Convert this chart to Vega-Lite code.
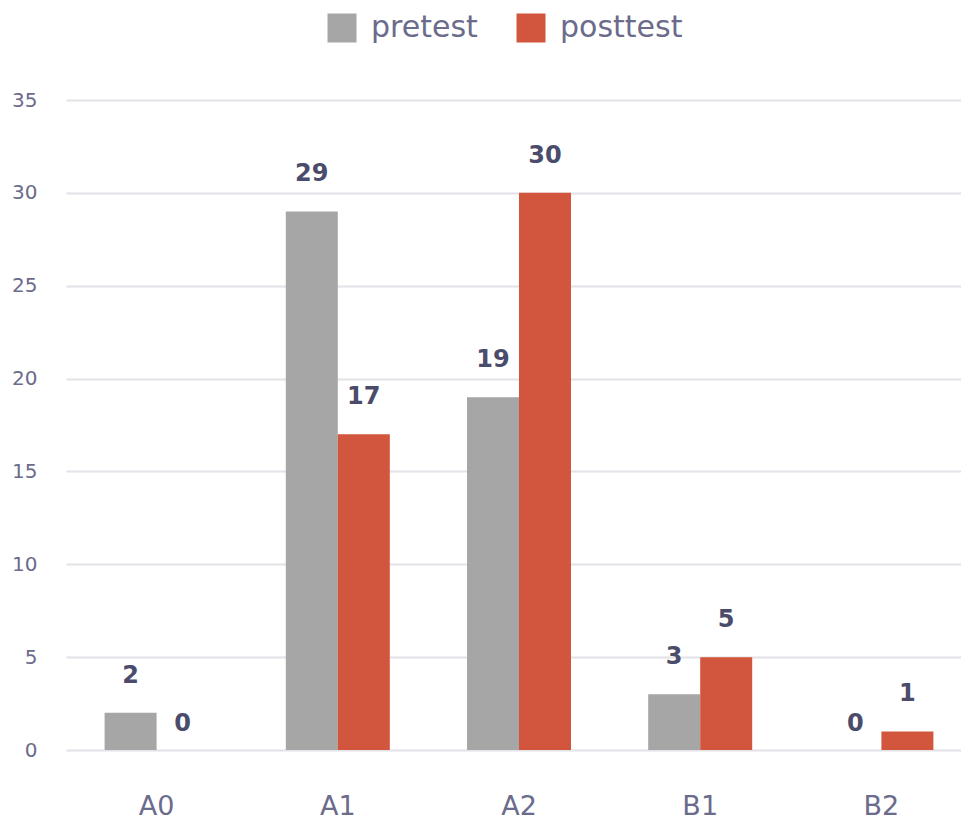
{
  "$schema": "https://vega.github.io/schema/vega-lite/v6.json",
  "width": 906,
  "height": 650,
  "autosize": {"type": "none"},
  "padding": {"left": 66, "top": 100, "right": 0, "bottom": 71},
  "background": "white",
  "data": {
    "values": [
      {"level": "A0", "test": "pretest", "order": 0, "count": 2},
      {"level": "A0", "test": "posttest", "order": 1, "count": 0},
      {"level": "A1", "test": "pretest", "order": 0, "count": 29},
      {"level": "A1", "test": "posttest", "order": 1, "count": 17},
      {"level": "A2", "test": "pretest", "order": 0, "count": 19},
      {"level": "A2", "test": "posttest", "order": 1, "count": 30},
      {"level": "B1", "test": "pretest", "order": 0, "count": 3},
      {"level": "B1", "test": "posttest", "order": 1, "count": 5},
      {"level": "B2", "test": "pretest", "order": 0, "count": 0},
      {"level": "B2", "test": "posttest", "order": 1, "count": 1}
    ]
  },
  "encoding": {
    "x": {
      "field": "level", "type": "nominal", "title": null,
      "scale": {"paddingInner": 0.426, "paddingOuter": 0.213},
      "axis": {"labelAngle": 0, "domain": false, "ticks": false, "labelFont": "DejaVu Sans", "labelFontSize": 27, "labelColor": "#6b6b8c", "labelPadding": 43, "grid": false}
    },
    "xOffset": {"field": "test", "type": "nominal", "sort": ["pretest", "posttest"], "scale": {"paddingInner": 0, "paddingOuter": 0}},
    "y": {
      "field": "count", "type": "quantitative", "title": null,
      "scale": {"domain": [0, 35], "nice": false},
      "axis": {"values": [0, 5, 10, 15, 20, 25, 30, 35], "domain": false, "ticks": false, "labelFont": "DejaVu Sans", "labelFontSize": 20, "labelColor": "#6b6b8c", "labelPadding": 29, "gridColor": "#e2e2e8", "gridWidth": 2}
    }
  },
  "layer": [
    {
      "mark": {"type": "bar"},
      "encoding": {
        "color": {
          "field": "test", "type": "nominal", "sort": ["pretest", "posttest"],
          "scale": {"domain": ["pretest", "posttest"], "range": ["#a6a6a6", "#d2553d"]},
          "legend": {
            "title": null, "orient": "none", "direction": "horizontal",
            "legendX": 261, "legendY": -87,
            "symbolType": "square", "symbolSize": 841, "symbolStrokeWidth": 0, "symbolOpacity": 1,
            "labelFont": "DejaVu Sans", "labelFontSize": 30, "labelColor": "#6b6b8c",
            "labelOffset": 14, "columnPadding": 38
          }
        }
      }
    },
    {
      "transform": [{"filter": "datum.count > 0"}],
      "mark": {"type": "text", "dy": -30, "baseline": "alphabetic", "font": "DejaVu Sans", "fontWeight": "bold", "fontSize": 24, "color": "#4b4b6b"},
      "encoding": {"text": {"field": "count", "type": "quantitative"}}
    },
    {
      "transform": [{"filter": "datum.count == 0"}],
      "mark": {"type": "text", "dy": -19, "baseline": "alphabetic", "font": "DejaVu Sans", "fontWeight": "bold", "fontSize": 24, "color": "#4b4b6b"},
      "encoding": {"text": {"field": "count", "type": "quantitative"}}
    }
  ],
  "config": {"view": {"stroke": null}}
}
